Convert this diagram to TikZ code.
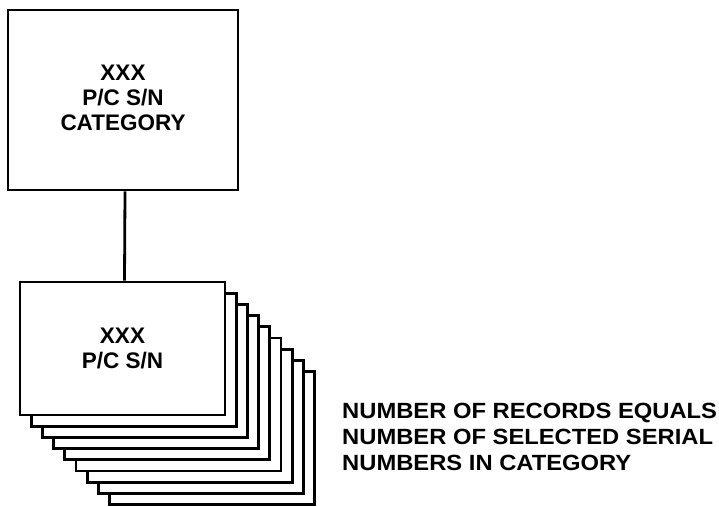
\documentclass[tikz,border=0pt]{standalone}
\usepackage{fontspec}
\setmainfont{Liberation Sans}
\newfontfamily\notefont{Liberation Sans Bold}[FakeStretch=1.08]
\usepackage{tikz}
\usetikzlibrary{positioning}
\tikzstyle{link} = [line width=2.8pt]

\begin{document}
\begin{tikzpicture}[
        x=1pt, y=-1pt,
        catbox/.style={draw=black, line width=2.8pt, fill=white, minimum width=230pt, minimum height=180pt, inner sep=0pt, text depth=5pt, align=center, font=\fontsize{22.5}{25}\selectfont\bfseries},
        card/.style={draw=black, line width=2.8pt, fill=white, minimum width=205pt, minimum height=133pt, inner sep=0pt, align=center, font=\fontsize{22.5}{25}\selectfont\bfseries},
    ]
        \useasboundingbox (0,0) rectangle (719,506);

        % category record
        \node[catbox] (cat) at (123, 100) {XXX\\P/C S/N\\CATEGORY};

        % stack of serial number records, back to front
        \node[card] (card8) at (212.1, 438.1) {};
        \node[card] (card7) at (200.9, 426.9) {};
        \node[card] (card6) at (189.7, 415.7) {};
        \node[card] (card5) at (178.5, 404.5) {};
        \node[card] (card4) at (167.3, 393.3) {};
        \node[card] (card3) at (156.1, 382.1) {};
        \node[card] (card2) at (144.9, 370.9) {};
        \node[card] (card1) at (133.7, 359.7) {};
        \node[card] (front) at (122.5, 348.5) {XXX\\P/C S/N};

        \draw[link] ([xshift=2pt]cat.south) -- ([xshift=2pt]front.north);

        \node[anchor=north west, inner sep=0pt, align=left, font=\fontsize{22}{26}\selectfont\notefont] (note) at (342, 403) {
            NUMBER OF RECORDS EQUALS\\
            NUMBER OF SELECTED SERIAL\\
            NUMBERS IN CATEGORY
        };
    \end{tikzpicture}
\end{document}
